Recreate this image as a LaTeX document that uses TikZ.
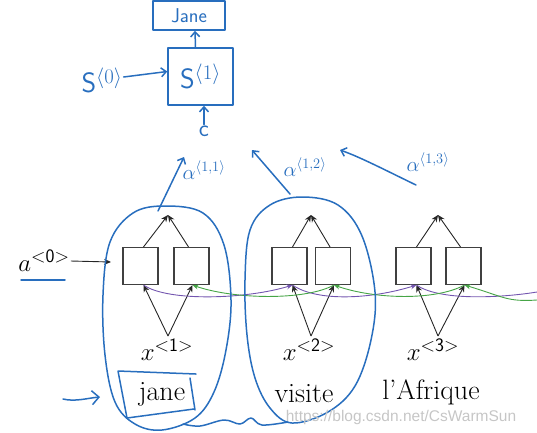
\documentclass[tikz,border=0pt]{standalone}
\usepackage{amsmath}
\usepackage{fontspec}
\newfontfamily\wmfont{Liberation Sans}
\usetikzlibrary{arrows.meta,calc}
\definecolor{hblue}{RGB}{40,110,190}
\definecolor{purp}{RGB}{115,85,175}
\definecolor{grn}{RGB}{70,165,70}
\newcommand{\supsf}[1]{\text{\fontsize{19}{19}\selectfont\sffamily #1}}
\begin{document}
\begin{tikzpicture}[x=1pt,y=-1pt,
  cell/.style={draw=black!75, line width=1.1pt, minimum width=35pt, minimum height=37pt, inner sep=0pt},
  blk/.style={draw=black!85, line width=0.9pt, -{Stealth[length=7pt,width=6pt]}},
  hand/.style={draw=hblue, line width=1.5pt, line cap=round, line join=round},
  harrow/.style={hand, -{Straight Barb[length=5pt,width=9pt]}},
  hbox/.style={hand, inner sep=0pt},
  htext/.style={text=hblue, inner sep=1pt},
  alab/.style={htext, font=\fontsize{21}{23}\selectfont},
  fwd/.style={draw=purp, line width=0.9pt, -{Stealth[length=6pt,width=5pt]}},
  bwd/.style={draw=grn, line width=0.9pt, -{Stealth[length=6pt,width=5pt]}},
  word/.style={font=\fontsize{28}{31}\selectfont, inner sep=1pt},
  xlab/.style={font=\fontsize{23}{26}\selectfont, inner sep=1pt}
]
\useasboundingbox (0,0) rectangle (537,432);

% ---------- top (decoder) ----------
\node[hbox, minimum width=72pt, minimum height=29pt, htext, font=\sffamily\fontsize{20}{22}\selectfont] (jane) at (189,15.5) {Jane};
\node[hbox, minimum width=65pt, minimum height=57pt, htext, font=\fontsize{28}{30}\selectfont] (S1) at (200.5,76.5) {$\mathsf{S}^{\langle 1\rangle}$};
\node[htext, font=\fontsize{28}{30}\selectfont] (S0) at (102,80) {$\mathsf{S}^{\langle 0\rangle}$};
\node[htext, font=\sffamily\fontsize{24}{26}\selectfont] (c) at (204,131) {c};
\draw[harrow] ([xshift=-5pt]S1.north) -- ([xshift=6pt]jane.south);
\draw[harrow] ([yshift=3pt]S0.east) -- ([yshift=5pt]S1.west);
\draw[harrow] (c.north) -- (c.north |- S1.south);

% attention weights
\node[alab] (al1) at (204,170) {$\alpha^{\langle 1,1\rangle}$};
\node[alab] (al2) at (305,167) {$\alpha^{\langle 1,2\rangle}$};
\node[alab] (al3) at (428,162) {$\alpha^{\langle 1,3\rangle}$};
\coordinate (t11) at (158,211);
\coordinate (h11) at (184,157);
\coordinate (t12) at (290,194);
\coordinate (h12) at (252,150);
\coordinate (t13) at (416,185);
\coordinate (h13) at (340,150);
\draw[harrow] (t11) -- (h11);
\draw[harrow] (t12) -- (h12);
\draw[harrow] (t13) .. controls (385,170) and (360,157) .. (h13);

% ---------- bottom (encoder) ----------
\node[cell] (u1L) at (140.5,266) {};
\node[cell] (u1R) at (191.5,266) {};
\node[cell] (u2L) at (289.5,266) {};
\node[cell] (u2R) at (333,266) {};
\node[cell] (u3L) at (413.5,266) {};
\node[cell] (u3R) at (463.5,266) {};

\coordinate (o1) at (168,215);
\coordinate (o2) at (311,215);
\coordinate (o3) at (438,215);
\foreach \u/\o in {u1/o1,u2/o2,u3/o3}{
  \draw[blk] ([xshift=3pt]\u L.north) -- (\o);
  \draw[blk] ([xshift=-3pt]\u R.north) -- (\o);
}

\node[xlab] (x1) at (167,350) {$x^{\supsf{<1>}}$};
\node[xlab] (x2) at (309,350) {$x^{\supsf{<2>}}$};
\node[xlab] (x3) at (433,350) {$x^{\supsf{<3>}}$};
\coordinate (b1) at (168,336);
\coordinate (b2) at (311,336);
\coordinate (b3) at (438,336);
\foreach \u/\b in {u1/b1,u2/b2,u3/b3}{
  \draw[blk] (\b) -- ([xshift=3pt]\u L.south);
  \draw[blk] (\b) -- ([xshift=1pt]\u R.south);
}

% recurrent connections
\coordinate (pR) at (537,292);
\coordinate (gR) at (537,300);
\draw[fwd] ([xshift=3pt]u1L.south) .. controls +(25,17) and +(-45,14) .. ([xshift=3pt]u2L.south);
\draw[fwd] ([xshift=3pt]u2L.south) .. controls +(25,17) and +(-45,14) .. ([xshift=3pt]u3L.south);
\draw[draw=purp, line width=0.9pt] ([xshift=3pt]u3L.south) .. controls +(25,17) and +(-30,5) .. (pR);
\draw[bwd] ([xshift=1pt]u2R.south) .. controls +(-30,16) and +(40,14) .. ([xshift=1pt]u1R.south);
\draw[bwd] ([xshift=1pt]u3R.south) .. controls +(-30,16) and +(40,14) .. ([xshift=1pt]u2R.south);
\draw[bwd] (gR) .. controls +(-30,2) and +(40,12) .. ([xshift=1pt]u3R.south);

% a<0>
\node[font=\fontsize{25}{27}\selectfont, inner sep=1pt] (a0) at (44,261) {$a^{\supsf{<0>}}$};
\coordinate (a0end) at (111,262);
\draw[blk] (a0.east) -- (a0end);
\coordinate (ul1) at (21,280);
\coordinate (ul2) at (65,280);
\draw[hand] (ul1) -- (ul2);

% words
\node[word] (w1) at (162,394) {jane};
\node[word] (w2) at (304,394) {visite};
\node[word] (w3) at (431,392) {l'Afrique};

% hand-drawn annotations
\draw[hand] plot[smooth cycle, tension=0.6] coordinates {(165,206) (203,213) (224,245) (231,300) (226,350) (214,392) (195,418) (162,430) (135,424) (115,402) (105,355) (103,295) (110,242) (133,213)};
\draw[hand] plot[smooth cycle, tension=0.6] coordinates {(302,197) (338,205) (362,236) (375,292) (371,340) (355,386) (328,412) (292,423) (270,408) (255,378) (247,335) (245,280) (250,230) (270,205)};
\draw[hand] plot[smooth, tension=0.6] coordinates {(183,424) (200,426) (224,420) (240,424) (251,418) (262,425) (288,422)};
\draw[hand] (118,371) -- (196,374) (118,371) -- (127,418) -- (194,409) (190,378) -- (195,410);
\coordinate (ha1) at (63,399);
\coordinate (ha2) at (100,397);
\draw[harrow, -{Straight Barb[length=7pt,width=14pt]}] (ha1) .. controls (75,402) and (88,398) .. (ha2);

% watermark
\node[text=gray!45, font=\wmfont\fontsize{15.5}{17}\selectfont, inner sep=0pt] (wm) at (401,417) {https://blog.csdn.net/CsWarmSun};
\end{tikzpicture}
\end{document}
